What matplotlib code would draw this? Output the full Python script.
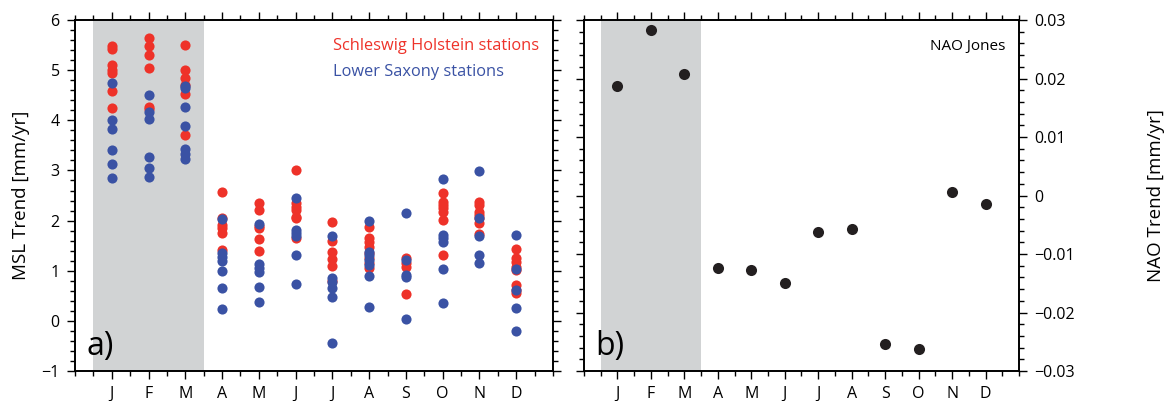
import numpy as np
import matplotlib
matplotlib.use("Agg")
import matplotlib.pyplot as plt
from matplotlib.ticker import MultipleLocator

plt.rcParams['font.family'] = ['Open Sans', 'DejaVu Sans']
plt.rcParams['axes.unicode_minus'] = True

months = ['J', 'F', 'M', 'A', 'M', 'J', 'J', 'A', 'S', 'O', 'N', 'D']

# Schleswig Holstein stations, MSL trend per month [mm/yr]
sh_trend = [
    [5.48, 5.42, 5.10, 5.01, 4.95, 4.59, 4.25],
    [5.65, 5.49, 5.31, 5.05, 4.27, 4.22],
    [5.51, 5.01, 4.85, 4.70, 4.53, 3.71],
    [2.58, 2.06, 1.92, 1.85, 1.75, 1.42],
    [2.36, 2.22, 1.90, 1.86, 1.64, 1.40],
    [3.01, 2.36, 2.28, 2.22, 2.08, 2.06, 1.65],
    [1.98, 1.60, 1.38, 1.24, 1.10, 0.80],
    [1.88, 1.66, 1.58, 1.48, 1.36, 1.26, 1.16, 1.06],
    [1.26, 1.16, 1.08, 0.54],
    [2.56, 2.38, 2.32, 2.26, 2.18, 2.02, 1.32],
    [2.38, 2.32, 2.18, 2.12, 2.06, 1.96, 1.74],
    [1.44, 1.26, 1.18, 1.08, 1.02, 0.72, 0.62, 0.56],
]

# Lower Saxony stations
ls_trend = [
    [4.75, 4.01, 3.83, 3.41, 3.13, 2.85],
    [4.51, 4.17, 4.03, 3.27, 3.05, 2.87],
    [4.69, 4.65, 4.27, 3.89, 3.43, 3.33, 3.23],
    [2.03, 1.36, 1.28, 1.20, 1.00, 0.66, 0.24],
    [1.94, 1.14, 1.06, 0.98, 0.68, 0.38],
    [2.46, 1.82, 1.76, 1.70, 1.32, 0.74],
    [1.70, 0.86, 0.78, 0.66, 0.48, -0.44],
    [2.00, 1.38, 1.32, 1.22, 1.12, 0.90, 0.28],
    [2.16, 1.22, 0.92, 0.88, 0.04],
    [2.83, 1.72, 1.66, 1.58, 1.04, 0.36],
    [2.98, 2.06, 1.70, 1.32, 1.16],
    [1.72, 1.04, 0.62, 0.26, -0.20],
]

# NAO (Jones) trend per month
nao_trend = [0.0188, 0.0283, 0.0208, -0.0124, -0.0127, -0.0150,
             -0.0063, -0.0058, -0.0254, -0.0262, 0.0006, -0.0014]

RED = '#ee3229'
BLUE = '#3a52a4'
GREY = '#d1d3d4'

fig = plt.figure(figsize=(11.64, 4.01), dpi=100)
ax1 = fig.add_axes([0.0644, 0.0748, 0.4107, 0.8752])
ax2 = fig.add_axes([0.5017, 0.0748, 0.3737, 0.8752])

x = np.arange(1, 13)

def style(ax):
    ax.set_xlim(0, 13)
    ax.axvspan(0.5, 3.5, color=GREY, lw=0, zorder=0)
    ax.set_xticks(x)
    ax.set_xticklabels(months)
    ax.xaxis.set_minor_locator(MultipleLocator(0.5))
    ax.tick_params(which='both', direction='out', top=True, right=True,
                   labelsize=11.5, width=1.0, colors='black')
    ax.tick_params(which='major', length=6, pad=5)
    ax.tick_params(which='minor', length=3.5)
    for s in ax.spines.values():
        s.set_linewidth(1.4)

# panel a
style(ax1)
for i in range(12):
    ax1.plot([x[i]] * len(sh_trend[i]), sh_trend[i], 'o', color=RED,
             ms=7.3, mec='none', zorder=2)
for i in range(12):
    ax1.plot([x[i]] * len(ls_trend[i]), ls_trend[i], 'o', color=BLUE,
             ms=7.3, mec='none', zorder=3)
ax1.set_ylim(-1, 6)
ax1.yaxis.set_major_locator(MultipleLocator(1))
ax1.yaxis.set_minor_locator(MultipleLocator(0.2))
ax1.set_ylabel('MSL Trend [mm/yr]', fontsize=13.5, labelpad=8)
ax1.text(0.025, 0.045, 'a)', transform=ax1.transAxes, fontsize=23)
ax1.text(0.539, 0.925, 'Schleswig Holstein stations', transform=ax1.transAxes,
         color=RED, fontsize=11.8, va='center')
ax1.text(0.539, 0.853, 'Lower Saxony stations', transform=ax1.transAxes,
         color=BLUE, fontsize=11.8, va='center')

# panel b
style(ax2)
ax2.plot(x, nao_trend, 'o', color='#231f20', ms=8, mec='none', zorder=3)
ax2.set_ylim(-0.03, 0.03)
ax2.yaxis.set_major_locator(MultipleLocator(0.01))
ax2.yaxis.set_minor_locator(MultipleLocator(0.002))
ax2.yaxis.tick_right()
ax2.tick_params(which='both', left=True)
ax2.yaxis.set_label_position('right')
ax2.set_yticks([-0.03, -0.02, -0.01, 0, 0.01, 0.02, 0.03])
ax2.set_yticklabels(['\u22120.03', '\u22120.02', '\u22120.01', '0',
                     '0.01', '0.02', '0.03'])
ax2.set_ylabel('NAO Trend [mm/yr]', fontsize=13.5, labelpad=52)
ax2.text(0.025, 0.045, 'b)', transform=ax2.transAxes, fontsize=23)
ax2.text(0.968, 0.925, 'NAO Jones', transform=ax2.transAxes,
         color='black', fontsize=11, va='center', ha='right')

fig.savefig('out.png', dpi=100)
